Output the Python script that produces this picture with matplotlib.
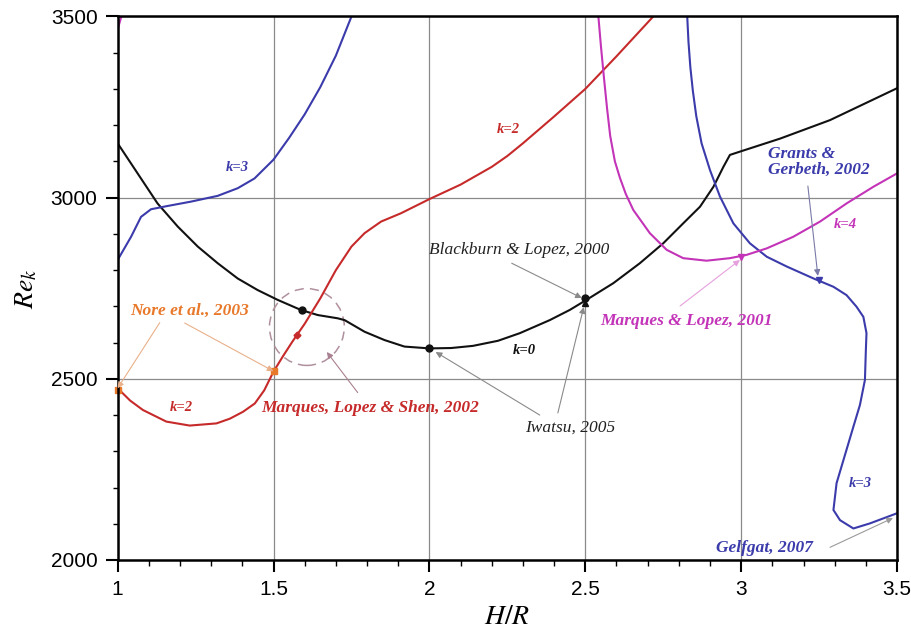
import numpy as np
import matplotlib
matplotlib.use("Agg")
import matplotlib.pyplot as plt
from matplotlib.patches import Ellipse
from matplotlib.ticker import MultipleLocator

plt.rcParams['mathtext.fontset'] = 'stix'

# k=0 (black)
k0_x = [1.0, 1.064, 1.128, 1.193, 1.257, 1.321, 1.385, 1.449, 1.513, 1.588, 1.642, 1.706,
        1.728, 1.792, 1.856, 1.92, 2.0, 2.07, 2.14, 2.22, 2.29, 2.386, 2.45, 2.504,
        2.59, 2.675, 2.75, 2.814, 2.868, 2.911, 2.943, 2.964, 2.996, 3.125, 3.285, 3.5]
k0_y = [3150, 3067, 2984, 2920, 2865, 2819, 2777, 2745, 2718, 2690, 2676, 2667,
        2662, 2630, 2607, 2589, 2584, 2585, 2591, 2605, 2626, 2662, 2690, 2718,
        2764, 2819, 2874, 2929, 2975, 3030, 3085, 3118, 3127, 3163, 3214, 3302]

# k=2 (red)
k2_x = [1.0, 1.04, 1.081, 1.156, 1.231, 1.317, 1.36, 1.402, 1.44, 1.47, 1.5, 1.53,
        1.56, 1.6, 1.65, 1.7, 1.75, 1.792, 1.845, 1.909, 2.0, 2.1, 2.2, 2.25,
        2.3, 2.4, 2.5, 2.6, 2.718]
k2_y = [2474, 2440, 2414, 2382, 2371, 2377, 2390, 2409, 2432, 2468, 2520, 2562,
        2602, 2652, 2722, 2800, 2865, 2902, 2934, 2957, 2996, 3036, 3085, 3115,
        3150, 3224, 3300, 3390, 3500]

# k=3 (blue, left branch)
k3a_x = [1.0, 1.043, 1.075, 1.107, 1.16, 1.235, 1.321, 1.385, 1.439, 1.5, 1.55, 1.6,
         1.65, 1.7, 1.75]
k3a_y = [2828, 2892, 2947, 2968, 2977, 2989, 3005, 3026, 3053, 3105, 3165, 3230,
         3305, 3392, 3500]

# k=3 (blue, right branch)
k3b_x = [2.827, 2.831, 2.837, 2.845, 2.856, 2.873, 2.9, 2.932, 2.975, 3.028, 3.082, 3.146,
         3.232, 3.296, 3.338, 3.37, 3.392, 3.402, 3.4, 3.397, 3.381, 3.36, 3.333, 3.306,
         3.296, 3.317, 3.36, 3.413, 3.5]
k3b_y = [3500, 3430, 3360, 3295, 3225, 3150, 3076, 3003, 2929, 2874, 2837, 2810,
         2777, 2754, 2731, 2699, 2671, 2626, 2580, 2497, 2428, 2368, 2290, 2212,
         2138, 2110, 2087, 2101, 2129]

# k=4 (magenta)
k4_x = [2.542, 2.55, 2.56, 2.57, 2.58, 2.595, 2.611, 2.63, 2.654, 2.707, 2.761, 2.814,
        2.889, 2.964, 3.017, 3.082, 3.167, 3.253, 3.338, 3.424, 3.5]
k4_y = [3500, 3420, 3330, 3245, 3170, 3100, 3055, 3010, 2966, 2902, 2856, 2833,
        2826, 2833, 2842, 2860, 2892, 2934, 2984, 3030, 3067]
k4_corner_x = [1.0, 1.012]
k4_corner_y = [3465, 3500]

black = '#111111'
red = '#c62a2a'
blue = '#3b3bab'
magenta = '#c334b8'
orange = '#e8782a'

fig = plt.figure(figsize=(9.12, 6.29), dpi=100)
ax = fig.add_axes([0.129, 0.1097, 0.8546, 0.8641])

ax.grid(True, which='major', color='#8a8a8a', lw=0.9)
ax.set_axisbelow(True)

lw = 1.5
ax.plot(k0_x, k0_y, color=black, lw=lw)
ax.plot(k2_x, k2_y, color=red, lw=lw)
ax.plot(k3a_x, k3a_y, color=blue, lw=lw)
ax.plot(k3b_x, k3b_y, color=blue, lw=lw)
ax.plot(k4_x, k4_y, color=magenta, lw=lw)
ax.plot(k4_corner_x, k4_corner_y, color=magenta, lw=lw)

# markers
ax.plot([1.59, 2.0, 2.5], [2690, 2584, 2722], 'o', color=black, ms=5)
ax.plot([2.5], [2708], '^', color=black, ms=5)
ax.plot([1.0, 1.5], [2470, 2521], 's', color=orange, ms=4.5, clip_on=False)
ax.plot([1.575], [2622], 'D', color=red, ms=3.5)
ax.plot([3.0], [2836], 'v', color=magenta, ms=4)
ax.plot([3.25], [2772], 'v', color=blue, ms=4)

ax.add_patch(Ellipse((1.607, 2643), 0.24, 212, fill=False, ls=(0, (6, 4)),
                     color='#b0909e', lw=1.1))

# curve labels
kfont = dict(family='Liberation Serif', style='italic', weight='bold', fontsize=10.5)
ax.text(1.385, 3082, 'k=3', color=blue, ha='center', va='center', **kfont)
ax.text(2.252, 3187, 'k=2', color=red, ha='center', va='center', **kfont)
ax.text(3.333, 2925, 'k=4', color=magenta, ha='center', va='center', **kfont)
ax.text(2.306, 2578, 'k=0', color=black, ha='center', va='center', **kfont)
ax.text(1.205, 2422, 'k=2', color=red, ha='center', va='center', **kfont)
ax.text(3.381, 2210, 'k=3', color=blue, ha='center', va='center', **kfont)

# references
bi = dict(family='Liberation Serif', style='italic', weight='bold', fontsize=12.5)
ri = dict(family='Liberation Serif', style='italic', fontsize=12.5)


def arrow(xy, xytext, color):
    ax.annotate('', xy=xy, xytext=xytext,
                arrowprops=dict(arrowstyle='-|>', color=color, lw=0.8,
                                mutation_scale=9, shrinkA=0, shrinkB=0))


ax.text(1.231, 2687, 'Nore et al., 2003', color=orange, ha='center', va='center', **bi)
arrow((1.0, 2474), (1.135, 2655), '#e9b08a')
arrow((1.5, 2521), (1.215, 2654), '#e9b08a')

ax.text(1.809, 2419, 'Marques, Lopez & Shen, 2002', color=red, ha='center', va='center', **bi)
arrow((1.671, 2574), (1.77, 2462), '#a88090')

ax.text(2.287, 2856, 'Blackburn & Lopez, 2000', color='#222222', ha='center', va='center', **ri)
arrow((2.489, 2723), (2.264, 2819), '#8a8a8a')

ax.text(2.451, 2364, 'Iwatsu, 2005', color='#222222', ha='center', va='center', **ri)
arrow((2.02, 2574), (2.354, 2400), '#8a8a8a')
arrow((2.495, 2698), (2.412, 2406), '#8a8a8a')

ax.text(2.826, 2660, 'Marques & Lopez, 2001', color=magenta, ha='center', va='center', **bi)
arrow((2.996, 2828), (2.804, 2701), '#e6a0de')

ax.text(3.086, 3098, 'Grants &\nGerbeth, 2002', color=blue, ha='left', va='center',
        linespacing=0.95, **bi)
arrow((3.246, 2784), (3.214, 3032), '#7a7aa8')

ax.text(3.076, 2033, 'Gelfgat, 2007', color=blue, ha='center', va='center', **bi)
arrow((3.487, 2116), (3.285, 2035), '#9a9a9a')

ax.set_xlim(1, 3.5)
ax.set_ylim(2000, 3500)
ax.xaxis.set_minor_locator(MultipleLocator(0.1))
ax.yaxis.set_major_locator(MultipleLocator(500))
ax.yaxis.set_minor_locator(MultipleLocator(100))
ax.set_xticks([1, 1.5, 2, 2.5, 3, 3.5])
ax.set_xticklabels(['1', '1.5', '2', '2.5', '3', '3.5'])
ax.tick_params(which='major', direction='out', length=8.5, width=1.5,
               labelsize=15, pad=6)
ax.tick_params(which='minor', direction='out', length=4.5, width=1.0)
ax.tick_params(axis='y', which='minor', length=3.5)
for lab in ax.get_xticklabels() + ax.get_yticklabels():
    lab.set_family('Liberation Sans')
for sp in ax.spines.values():
    sp.set_linewidth(1.8)

ax.set_xlabel('$H/R$', fontsize=20, labelpad=2)
ax.set_ylabel('$Re_k$', fontsize=20, labelpad=8)

fig.savefig('out.png', dpi=100)
